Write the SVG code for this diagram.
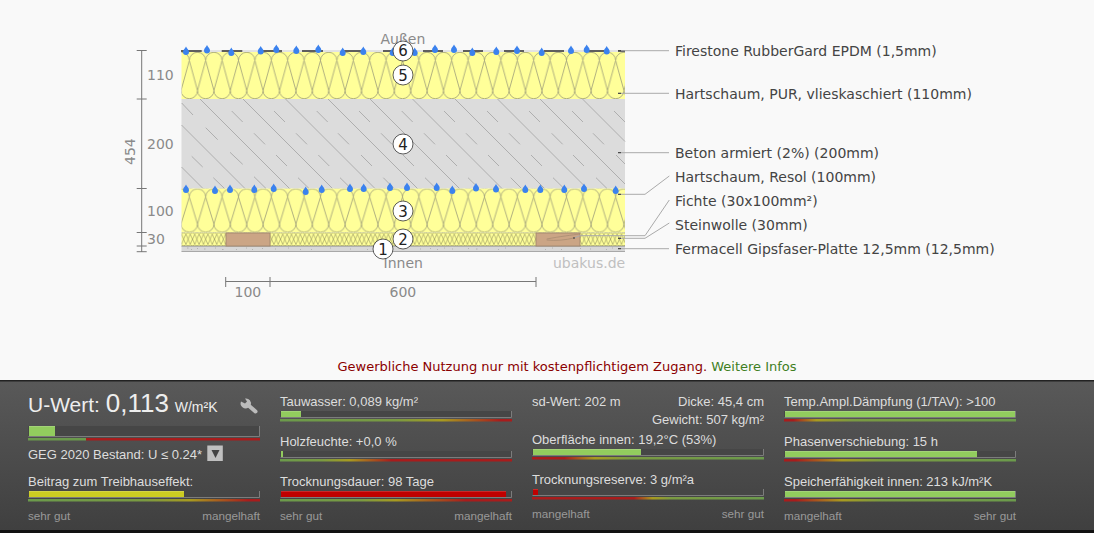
<svg xmlns="http://www.w3.org/2000/svg" width="1094" height="533" viewBox="0 0 1094 533">
<defs>
<pattern id="ins5" patternUnits="userSpaceOnUse" x="181.1" y="52" width="16.4" height="47"><rect width="16.4" height="47" fill="#ffff99"/><g fill="none" stroke="#a6a67c" stroke-width=".9"><path d="M0 38.500A8.200 8.200 0 0 0 16.400 38.500L8.200 8.500A8.200 8.200 0 0 1 24.600 8.500L16.400 38.500"/><path d="M-16.400 38.500A8.200 8.200 0 0 0 0 38.500L-8.200 8.500A8.200 8.200 0 0 1 8.200 8.500L0 38.500"/></g></pattern>
<pattern id="ins3" patternUnits="userSpaceOnUse" x="181.1" y="188.500" width="16.4" height="44"><rect width="16.4" height="44" fill="#ffff99"/><g fill="none" stroke="#a6a67c" stroke-width=".9"><path d="M0 35.500A8.200 8.200 0 0 0 16.400 35.500L8.200 8.500A8.200 8.200 0 0 1 24.600 8.500L16.400 35.500"/><path d="M-16.400 35.500A8.200 8.200 0 0 0 0 35.500L-8.200 8.500A8.200 8.200 0 0 1 8.200 8.500L0 35.500"/></g></pattern>
<pattern id="wool" patternUnits="userSpaceOnUse" x="181.5" y="232.500" width="4.4" height="13.500"><rect width="4.4" height="13.500" fill="#ffff99"/><path d="M0 1.500L4.400 12M4.400 1.500L0 12M0 1.500A2.200 1.200 0 0 1 4.400 1.500M0 12A2.200 1.200 0 0 0 4.400 12" fill="none" stroke="#94945f" stroke-width=".65"/></pattern>
<path id="d" d="M0 -4.500C.9 -2.500 3 -1 3 1.100A3 3 0 0 1 -3 1.100C-3 -1 -.9 -2.500 0 -4.500Z" fill="#3b82ee"/>
<linearGradient id="gr1"><stop offset="0" stop-color="#6b9a4c"/><stop offset=".5" stop-color="#7a9a42"/><stop offset=".7" stop-color="#a89a20"/><stop offset=".95" stop-color="#a81c1c"/></linearGradient>
<linearGradient id="gr2"><stop offset="0" stop-color="#6b9a4c"/><stop offset=".18" stop-color="#7a9a42"/><stop offset=".3" stop-color="#a89a20"/><stop offset=".48" stop-color="#a81c1c"/></linearGradient>
<linearGradient id="gr3"><stop offset="0" stop-color="#6b9a4c"/><stop offset=".35" stop-color="#7a9a42"/><stop offset=".5" stop-color="#a89a20"/><stop offset=".8" stop-color="#a81c1c"/></linearGradient>
<linearGradient id="rg1"><stop offset="0" stop-color="#a81c1c"/><stop offset=".14" stop-color="#a81c1c"/><stop offset=".27" stop-color="#a89a20"/><stop offset=".42" stop-color="#7a9a42"/><stop offset="1" stop-color="#6b9a4c"/></linearGradient>
<linearGradient id="rg2"><stop offset="0" stop-color="#a81c1c"/><stop offset=".44" stop-color="#a81c1c"/><stop offset=".52" stop-color="#a89a20"/><stop offset=".6" stop-color="#7a9a42"/><stop offset="1" stop-color="#6b9a4c"/></linearGradient>
<linearGradient id="rg3"><stop offset="0" stop-color="#a81c1c"/><stop offset=".04" stop-color="#a81c1c"/><stop offset=".14" stop-color="#a89a20"/><stop offset=".3" stop-color="#7a9a42"/><stop offset="1" stop-color="#6b9a4c"/></linearGradient>
<linearGradient id="rg4"><stop offset="0" stop-color="#a81c1c"/><stop offset=".05" stop-color="#a81c1c"/><stop offset=".25" stop-color="#a89a20"/><stop offset=".42" stop-color="#7a9a42"/><stop offset="1" stop-color="#6b9a4c"/></linearGradient>
<linearGradient id="panel" x1="0" y1="0" x2="0" y2="1"><stop offset="0" stop-color="#595959"/><stop offset="1" stop-color="#3f3f3f"/></linearGradient>
</defs>
<style>
text{font-family:"DejaVu Sans",sans-serif}
.dim{font-size:14px;fill:#8a8a8a}
.lab{font-size:14px;fill:#444}
.n{font-size:15px;fill:#222;text-anchor:middle}
.c{fill:#fff;stroke:#333;stroke-width:.8}
.dl{stroke:#777;stroke-width:1;fill:none}
.ld{stroke:#aaa;stroke-width:1;fill:none}
.m{stroke:#333;stroke-width:1.6}
.h{stroke:#a8a8a8;stroke-width:.9;fill:none}
.p{font-family:"Liberation Sans",sans-serif;font-size:13px;fill:#ddd}
.s{font-family:"Liberation Sans",sans-serif;font-size:11.7px;fill:#999}
.tr{fill:#464646;stroke:none}
.bx{fill:none;stroke:#7c7c7c;stroke-width:1}
.g{fill:#92cc5e}
.hl{fill:#fff;opacity:.16}
</style>
<rect width="1094" height="533" fill="#f9f9f9"/>
<g id="construction">
<rect x="181.5" y="99" width="443.5" height="89.5" fill="#dcdcdc"/>
<g class="h">
<path d="M200 99L289.500 188.500M243 99L332.500 188.500M285.500 99L375 188.500M328 99L417.500 188.500M370 99L459.500 188.500M412.500 99L502 188.500M455 99L544.500 188.500M497.500 99L587 188.500M540 99L625 184M582.500 99L625 141.500M181.500 125L245 188.500M181.500 167L203 188.500"/>
<path d="M181.700 103L193 115M231.700 111L242.700 122M274 111L285 122M316.700 111L327.700 122M359 111L370 122M401.700 111L412.700 122M444 111L455 122M487 111L498 122M529 111L540 122M572 111L583 122M614 111L625 122"/>
<path d="M205.700 127.700L217.700 139.700M254 133.300L265 144.300M296 133.300L307 144.300M338 133.300L349 144.300M381 133.300L392 144.300M424 133.300L435 144.300M466 133.300L477 144.300M509 133.300L520 144.300M551.700 133.300L562.700 144.300M593 133.300L604 144.300"/>
<path d="M191.700 156.300L202.700 167M230 152.300L242.700 164.300M276 155L287 166M318.300 155L329.300 166M361 155L372 166M403 155L414 166M446 155L457 166M488 155L499 166M531 155L542 166M573 155L584 166M616 155L625 164"/>
<path d="M213.300 177.700L224.500 188.500M254 176.700L266 188.500M298 177.700L309 188.500M340 177.700L351 188.500M383.300 177.700L394 188.500M425 177.700L436 188.500M468 177.700L479 188.500M510.700 177.700L521.500 188.500M553 177.700L564 188.500M596 177.700L607 188.500"/>
</g>
<rect x="181.500" y="52" width="443.500" height="47" fill="url(#ins5)"/>
<rect x="181.500" y="188.500" width="443.500" height="44" fill="url(#ins3)"/>
<rect x="181.500" y="232.500" width="443.500" height="13.500" fill="url(#wool)"/>
<rect x="181.500" y="246" width="443.500" height="5.500" fill="#d8d8d8"/>
<path d="M181.500 251.500H625" stroke="#a8a8a8" stroke-width="1"/>
<path d="M181.500 246.300H625" stroke="#9a9a9a" stroke-width=".8"/>
<path d="M187 248h1.500M191 249.500h1M197 248l1 1M204 249h1.500M215 248h1M222 249.500h1.500M236 249l1 1M246 248h1M252 249.500h1M262 248l1 1M275 249h1M288 248h1M300 249.500h1M311 249l1 1M330 248h1M350 249h1M367 249.500h1M420 249h1M430 248l1 1M437 249.500h1M444 248h1M452 249h1M468 248l1 1M476 249h1.500M498 249.500h1M505 248h1M545 249l1 1M552 248h1M561 249.500h1M580 248l1 1M590 249h1M606 249.500h1M612 248h1" stroke="#aaa" stroke-width=".8"/>
<rect x="226" y="233" width="44" height="13" fill="#cba585" stroke="#a58a70"/>
<rect x="536" y="233" width="44" height="13" fill="#cba585" stroke="#a58a70"/>
<path d="M546.700 239C560 236.500 572 235 580 234M546.700 240C556 241 566 240 573.500 238" fill="none" stroke="#a58a70" stroke-width=".7"/>
<path d="M181.500 51H625" stroke="#ccc" stroke-width="1"/>
<path class="m" d="M181 51H201.700M221.700 51H242.300M262 51H282M302 51H323M343 51H363M383 51H404M423 51H443M463 51H483M504 51H524M544 51H564M585 51H605M618 51H625"/>
<g>
<use href="#d" x="186" y="51"/><use href="#d" x="207" y="49.500"/><use href="#d" x="231.300" y="52"/><use href="#d" x="260.700" y="50.500"/><use href="#d" x="276.300" y="49"/><use href="#d" x="296.300" y="50"/><use href="#d" x="318.300" y="49"/><use href="#d" x="342.700" y="52"/><use href="#d" x="363.300" y="51"/><use href="#d" x="392.700" y="52"/><use href="#d" x="414.700" y="52"/><use href="#d" x="435" y="49"/><use href="#d" x="454" y="49"/><use href="#d" x="472.300" y="52"/><use href="#d" x="496.300" y="51"/><use href="#d" x="517" y="50"/><use href="#d" x="541.700" y="52"/><use href="#d" x="571" y="50"/><use href="#d" x="586.700" y="49"/><use href="#d" x="606.700" y="50.500"/>
<use href="#d" x="186" y="189"/><use href="#d" x="215" y="190"/><use href="#d" x="230" y="189"/><use href="#d" x="254.300" y="189"/><use href="#d" x="273.700" y="188"/><use href="#d" x="305.700" y="191"/><use href="#d" x="321.700" y="189"/><use href="#d" x="350" y="188"/><use href="#d" x="363.700" y="188"/><use href="#d" x="390" y="187"/><use href="#d" x="407" y="187"/><use href="#d" x="436.700" y="187"/><use href="#d" x="452.300" y="190"/><use href="#d" x="476" y="187.500"/><use href="#d" x="496" y="188.500"/><use href="#d" x="525.300" y="189"/><use href="#d" x="540.300" y="189"/><use href="#d" x="564.300" y="189"/><use href="#d" x="584" y="188"/><use href="#d" x="615.700" y="190"/>
</g>
</g>
<g id="connectors">
<path class="ld" d="M618 50.700H669"/><path class="ld" d="M618 93.300H669"/><path class="ld" d="M618 152.700H669"/>
<path class="ld" d="M618 194.300H645L669.300 176"/>
<path class="ld" d="M574 238L580 235.700H645L669.300 200"/>
<path class="ld" d="M618 238.300H645L669.300 223"/>
<path class="ld" d="M618 248.700H669"/>
<path d="M618 50.700H621M618 93.300H621M618 152.700H621M618 194.300H621M618 238.300H621M618 248.700H621M573 238H575" stroke="#333" stroke-width="1"/>
</g>
<g id="dimensions">
<path class="dl" d="M141.700 50V252M136.700 50.500H146.700M136.700 99H146.700M136.700 188.500H146.700M136.700 232.500H146.700M136.700 246H146.700M136.700 251.700H146.700"/>
<path class="dl" d="M225.700 277V287M270 277V287M536 277V287M225.700 281.500H536"/>
<text class="dim" x="147" y="80">110</text><text class="dim" x="147" y="149">200</text><text class="dim" x="147" y="216">100</text><text class="dim" x="147" y="244">30</text>
<text class="dim" transform="translate(135 165) rotate(-90)">454</text>
<text class="dim" x="234.500" y="297">100</text><text class="dim" x="389.500" y="297">600</text>
<text class="dim" x="380.500" y="44">Außen</text><text class="dim" x="383.500" y="268">Innen</text>
<text x="553" y="268" font-size="14" fill="#c0c0c0">ubakus.de</text>
</g>
<g id="l6"><circle class="c" cx="403" cy="51" r="10"/><text class="n" x="403" y="56">6</text></g>
<g id="l5g"><circle class="c" cx="403" cy="75" r="10"/><text class="n" x="403" y="80.500">5</text></g>
<g id="l4"><circle class="c" cx="403" cy="144" r="10"/><text class="n" x="403" y="149.500">4</text></g>
<g id="l3"><circle class="c" cx="403" cy="211" r="10"/><text class="n" x="403" y="216.500">3</text></g>
<g id="l2"><circle class="c" cx="403" cy="239" r="10"/><text class="n" x="403" y="244.500">2</text></g>
<g id="l1"><circle class="c" cx="383" cy="249" r="10"/><text class="n" x="383" y="254.500">1</text></g>
<g id="labels">
<text class="lab" x="675" y="56">Firestone RubberGard EPDM (1,5mm)</text>
<text class="lab" x="675" y="99">Hartschaum, PUR, vlieskaschiert (110mm)</text>
<text class="lab" x="675" y="158">Beton armiert (2%) (200mm)</text>
<text class="lab" x="675" y="182">Hartschaum, Resol (100mm)</text>
<text class="lab" x="675" y="206">Fichte (30x100mm²)</text>
<text class="lab" x="675" y="230">Steinwolle (30mm)</text>
<text class="lab" x="675" y="254">Fermacell Gipsfaser-Platte 12,5mm (12,5mm)</text>
</g>
<g id="notice"><text x="337.500" y="371" font-size="13" fill="#8b0000">Gewerbliche Nutzung nur mit kostenpflichtigem Zugang. <tspan fill="#3f7f1f">Weitere Infos</tspan></text></g>
<g id="panel">
<rect y="380" width="1094" height="153" fill="url(#panel)"/>
<rect y="380" width="1094" height="1.500" fill="#222"/>
<rect y="530" width="1094" height="3" fill="#111"/>
<text class="p" x="28" y="412" style="font-size:21px;fill:#eee">U-Wert: <tspan style="font-size:26px">0,113</tspan> <tspan style="font-size:14px">W/m²K</tspan></text>
<path d="M248 405L255.500 411.500" stroke="#bbb" stroke-width="4" stroke-linecap="round" fill="none"/><path d="M241 401.500A5 5 0 0 0 248.500 407.500L250.500 405.500A5 5 0 0 0 245 398.500L247 401.500L245 403.500Z" fill="#bbb"/>
<rect class="tr" x="28" y="426" width="232" height="10"/><rect class="g" x="29" y="426" width="26" height="10"/><rect class="hl" x="29" y="426" width="26" height="1"/><path class="bx" d="M28.500 436.500H259.500V426"/>
<rect x="28" y="438" width="58" height="2.500" fill="#6b9a4c"/><rect x="86" y="438" width="174" height="2.500" fill="#a81c1c"/>
<text class="p" x="28" y="459">GEG 2020 Bestand: U ≤ 0.24*</text>
<rect x="207.300" y="445.500" width="15.500" height="15.500" fill="#c0c0c0"/><path d="M211.500 450H219.500L215.500 458Z" fill="#444"/>
<text class="p" x="28" y="486">Beitrag zum Treibhauseffekt:</text>
<rect class="tr" x="28" y="491" width="232" height="7"/><rect x="29" y="491" width="155" height="7" fill="#cccc22"/><rect class="hl" x="29" y="491" width="155" height="1"/><path class="bx" d="M28.500 497.500H259.500V491"/>
<rect x="28" y="499" width="232" height="2.500" fill="url(#gr1)"/>
<text class="s" x="28" y="520">sehr gut</text><text class="s" x="260" y="520" text-anchor="end">mangelhaft</text>

<text class="p" x="280" y="406">Tauwasser: 0,089 kg/m²</text>
<rect class="tr" x="280" y="411" width="232" height="7"/><rect class="g" x="281" y="411" width="20" height="7"/><rect class="hl" x="281" y="411" width="20" height="1"/><path class="bx" d="M280.500 417.500H511.500V411"/>
<rect x="280" y="419" width="232" height="2.500" fill="url(#gr1)"/>
<text class="p" x="280" y="446">Holzfeuchte: +0,0 %</text>
<rect class="tr" x="280" y="451" width="232" height="7"/><rect class="g" x="281" y="451" width="2" height="7"/><path class="bx" d="M280.500 457.500H511.500V451"/>
<rect x="280" y="459" width="232" height="2.500" fill="url(#gr2)"/>
<text class="p" x="280" y="486">Trocknungsdauer: 98 Tage</text>
<rect class="tr" x="280" y="491" width="232" height="7"/><rect x="281" y="491" width="225" height="7" fill="#c00000"/><rect class="hl" x="281" y="491" width="225" height="1"/><path class="bx" d="M280.500 497.500H511.500V491"/>
<rect x="280" y="499" width="232" height="2.500" fill="url(#gr3)"/>
<text class="s" x="280" y="520">sehr gut</text><text class="s" x="512" y="520" text-anchor="end">mangelhaft</text>

<text class="p" x="532" y="406">sd-Wert: 202 m</text><text class="p" x="764" y="406" text-anchor="end">Dicke: 45,4 cm</text>
<text class="p" x="764" y="424" text-anchor="end">Gewicht: 507 kg/m²</text>
<text class="p" x="532" y="444">Oberfläche innen: 19,2°C (53%)</text>
<rect class="tr" x="532" y="449" width="232" height="7"/><rect class="g" x="533" y="449" width="108" height="7"/><rect class="hl" x="533" y="449" width="108" height="1"/><path class="bx" d="M532.500 455.500H763.500V449"/>
<rect x="532" y="457" width="232" height="2.500" fill="url(#rg1)"/>
<text class="p" x="532" y="484">Trocknungsreserve: 3 g/m²a</text>
<rect class="tr" x="532" y="489" width="232" height="7"/><rect x="533" y="489" width="5" height="7" fill="#c00000"/><rect class="hl" x="533" y="489" width="5" height="1"/><path class="bx" d="M532.500 495.500H763.500V489"/>
<rect x="532" y="497" width="232" height="2.500" fill="url(#rg2)"/>
<text class="s" x="532" y="518">mangelhaft</text><text class="s" x="764" y="518" text-anchor="end">sehr gut</text>

<text class="p" x="784" y="406">Temp.Ampl.Dämpfung (1/TAV): &gt;100</text>
<rect class="tr" x="784" y="411" width="232" height="7"/><rect class="g" x="785" y="411" width="230" height="7"/><rect class="hl" x="785" y="411" width="230" height="1"/><path class="bx" d="M784.500 417.500H1015.500V411"/>
<rect x="784" y="419" width="232" height="2.500" fill="url(#rg3)"/>
<text class="p" x="784" y="446">Phasenverschiebung: 15 h</text>
<rect class="tr" x="784" y="451" width="232" height="7"/><rect class="g" x="785" y="451" width="192" height="7"/><rect class="hl" x="785" y="451" width="192" height="1"/><path class="bx" d="M784.500 457.500H1015.500V451"/>
<rect x="784" y="459" width="232" height="2.500" fill="url(#rg4)"/>
<text class="p" x="784" y="486">Speicherfähigkeit innen: 213 kJ/m²K</text>
<rect class="tr" x="784" y="491" width="232" height="7"/><rect class="g" x="785" y="491" width="230" height="7"/><rect class="hl" x="785" y="491" width="230" height="1"/><path class="bx" d="M784.500 497.500H1015.500V491"/>
<rect x="784" y="499" width="232" height="2.500" fill="url(#rg4)"/>
<text class="s" x="784" y="520">mangelhaft</text><text class="s" x="1016" y="520" text-anchor="end">sehr gut</text>
</g>
</svg>
